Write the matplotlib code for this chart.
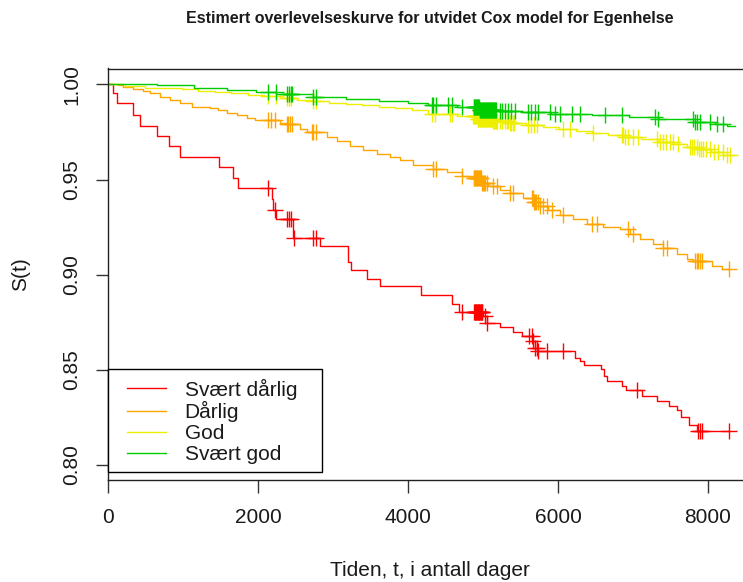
import numpy as np
import matplotlib
matplotlib.use("Agg")
import matplotlib.pyplot as plt
from matplotlib import rcParams
from matplotlib.patches import Rectangle

rcParams['font.family'] = ['Liberation Sans', 'DejaVu Sans']
rcParams['font.size'] = 15

W, H, DPI = 743, 582, 100

title = "Estimert overlevelseskurve for utvidet Cox model for Egenhelse"
xlabel = "Tiden, t, i antall dager"
ylabel = "S(t)"
group_names = ["Svært dårlig", "Dårlig", "God", "Svært god"]
group_colors = ["#FF0000", "#FFA500", "#EEEE00", "#00CD00"]
x_ticks = [0, 2000, 4000, 6000, 8000]
y_ticks = [0.80, 0.85, 0.90, 0.95, 1.00]
y_tick_labels = ["0.80", "0.85", "0.90", "0.95", "1.00"]

# step curves: times where S(t) drops, and the value after the drop
red_t = [0, 62, 116, 338, 427, 658, 818, 960, 1476, 1671, 1738, 2182, 2204, 2240,
         2471, 2827, 3204, 3236, 3449, 3627, 4169, 4591, 4684, 5004, 5058, 5227,
         5396, 5524, 5658, 5690, 5720, 6227, 6293, 6351, 6569, 6613, 6658, 6849,
         6907, 7116, 7316, 7484, 7582, 7640, 7742, 7849]
red_s = [1.0, 0.9953, 0.9900, 0.9842, 0.9783, 0.9728, 0.9675, 0.9621, 0.9565,
         0.9509, 0.9453, 0.9398, 0.9342, 0.9290, 0.9193, 0.9153, 0.9065, 0.9023,
         0.8979, 0.8939, 0.8891, 0.8846, 0.8805, 0.8781, 0.8746, 0.8723, 0.8700,
         0.8679, 0.8649, 0.8614, 0.8597, 0.8561, 0.8544, 0.8523, 0.8504, 0.8465,
         0.8442, 0.8416, 0.8393, 0.8363, 0.8335, 0.8307, 0.8286, 0.8249, 0.8207,
         0.8179]
red_end = 8284
red_cens = [2138, 2227, 2391, 2413, 2436, 2480, 2738, 2773, 4716, 4880, 4888, 4896,
            4904, 4912, 4920, 4928, 4936, 4944, 4952, 4960, 4968, 4976, 4984, 4992,
            5030, 5060, 5610, 5650, 5672, 5695, 5715, 5738, 5849, 6071, 7049, 7870,
            7892, 7915, 8284]

orange_t = [0, 138, 204, 338, 471, 560, 693, 827, 960, 1116, 1360, 1471, 1582, 1716,
            1849, 1960, 2293, 2382, 2560, 2649, 2916, 3049, 3227, 3404, 3582, 3760,
            3893, 4071, 4338, 4516, 4716, 4871, 4982, 5071, 5227, 5360, 5538, 5671,
            5760, 5871, 6027, 6204, 6382, 6604, 6827, 6960, 7093, 7271, 7404, 7582,
            7716, 7804, 8049, 8182]
orange_s = [1.0, 0.9995, 0.9988, 0.9977, 0.9968, 0.9953, 0.9935, 0.9918, 0.9900,
            0.9883, 0.9875, 0.9865, 0.9851, 0.9837, 0.9823, 0.9812, 0.9798, 0.9790,
            0.9767, 0.9749, 0.9725, 0.9705, 0.9679, 0.9653, 0.9637, 0.9619, 0.9602,
            0.9574, 0.9556, 0.9540, 0.9518, 0.9509, 0.9483, 0.9465, 0.9447, 0.9430,
            0.9404, 0.9381, 0.9360, 0.9339, 0.9311, 0.9290, 0.9268, 0.9251, 0.9240,
            0.9216, 0.9188, 0.9163, 0.9140, 0.9111, 0.9083, 0.9070, 0.9044, 0.9030]
orange_end = 8284
orange_cens = [2138, 2169, 2227, 2382, 2404, 2427, 2449, 2716, 2738, 2773, 4338, 4373,
               4716, 4875, 4885, 4895, 4905, 4915, 4925, 4935, 4945, 4955, 4965, 4975,
               4985, 4995, 5010, 5030, 5050, 5138, 5182, 5360, 5404, 5650, 5665, 5680,
               5695, 5710, 5730, 5760, 5800, 5850, 5916, 6071, 6449, 6516, 6938, 7004,
               7404, 7449, 7827, 7849, 7871, 7893, 7916, 8284]

yellow_t = [0, 221, 495, 760, 987, 1200, 1424, 1640, 1861, 2080, 2299, 2520, 2736,
            2950, 3173, 3390, 3611, 3830, 4049, 4266, 4651, 4924, 5140, 5360, 5580,
            5798, 6020, 6236, 6450, 6673, 6890, 7111, 7330, 7548, 7720, 7876, 8040,
            8204]
yellow_s = [1.0, 0.9993, 0.9984, 0.9979, 0.9974, 0.9967, 0.9960, 0.9953, 0.9946,
            0.9937, 0.9928, 0.9919, 0.9911, 0.9904, 0.9897, 0.9890, 0.9883, 0.9874,
            0.9865, 0.9847, 0.9835, 0.9818, 0.9809, 0.9800, 0.9787, 0.9774, 0.9765,
            0.9756, 0.9746, 0.9735, 0.9724, 0.9712, 0.9699, 0.9686, 0.9673, 0.9660,
            0.9645, 0.9630]
yellow_end = 8333
yellow_cens = [2138, 2240, 2391, 2413, 2436, 2738, 2773, 4316, 4360, 4560, 4582,
               4870, 4880, 4890, 4900, 4910, 4920, 4930, 4940, 4950, 4960, 4970, 4980,
               4990, 5000, 5010, 5020, 5030, 5040, 5050, 5060, 5070, 5080, 5090, 5100,
               5110, 5120, 5130, 5140, 5150, 5160, 5170, 5180, 5190, 5230, 5260, 5290,
               5320, 5340, 5360, 5380, 5400, 5410, 5600, 5640, 5680, 5720, 6071, 6160,
               6471, 6849, 6870, 6890, 6938, 7004, 7071, 7316, 7360, 7400, 7440, 7490,
               7540, 7604, 7760, 7790, 7820, 7850, 7880, 7910, 7940, 7980, 8030, 8080,
               8130, 8200, 8250, 8293]

green_t = [0, 659, 1151, 1588, 1971, 2241, 2736, 3173, 3611, 3994, 4266, 4651, 4950,
           5200, 5525, 5908, 6455, 6947, 7329, 7821, 8095, 8250]
green_s = [1.0, 0.9995, 0.9984, 0.9970, 0.9958, 0.9949, 0.9932, 0.9921, 0.9911,
           0.9900, 0.9890, 0.9879, 0.9867, 0.9861, 0.9854, 0.9847, 0.9840, 0.9830,
           0.9816, 0.9802, 0.9791, 0.9784]
green_end = 8360
green_cens = [2138, 2240, 2391, 2413, 2436, 2460, 2738, 2773, 4316, 4338, 4373, 4538,
              4582, 4716, 4875, 4885, 4895, 4905, 4915, 4925, 4935, 4945, 4955, 4965,
              4975, 4985, 4995, 5005, 5015, 5025, 5035, 5045, 5055, 5065, 5075, 5085,
              5095, 5105, 5115, 5125, 5135, 5145, 5155, 5165, 5175, 5227, 5260, 5300,
              5340, 5380, 5427, 5600, 5640, 5690, 5738, 5889, 5956, 6022, 6182, 6293,
              6627, 6849, 7293, 7338, 7804, 7830, 7860, 7893, 8027, 8116, 8204]

curves = [
    (red_t, red_s, red_end, red_cens),
    (orange_t, orange_s, orange_end, orange_cens),
    (yellow_t, yellow_s, yellow_end, yellow_cens),
    (green_t, green_s, green_end, green_cens),
]

fig = plt.figure(figsize=(W / DPI, H / DPI), dpi=DPI)
ax = fig.add_axes([108 / W, (H - 480) / H, (755 - 108) / W, (480 - 68.5) / H])

handles = []
for (t, s, t_end, cens), name, col in zip(curves, group_names, group_colors):
    tt = np.array(t + [t_end], dtype=float)
    ss = np.array(s + [s[-1]], dtype=float)
    line, = ax.step(tt, ss, where='post', color=col, lw=1.0, label=name)
    handles.append(line)
    idx = np.searchsorted(np.array(t), np.array(cens), side='right') - 1
    ax.plot(cens, np.array(s)[idx], ls='none', marker='+', color=col,
            markersize=11, markeredgewidth=1.0)

ax.set_xlim(0, 8627)
ax.set_ylim(0.792, 1.0084)
ax.set_xticks(x_ticks)
ax.set_xticklabels([str(v) for v in x_ticks])
ax.set_yticks(y_ticks)
ax.set_yticklabels(y_tick_labels, rotation=90, va='center')
ax.tick_params(axis='both', direction='out', length=9, width=1.0, colors='#333333',
               labelcolor='#1a1a1a', labelsize=15)
ax.tick_params(axis='x', pad=11)
ax.tick_params(axis='y', pad=10)
for sp in ax.spines.values():
    sp.set_color('#222222')
    sp.set_linewidth(1.0)

fig.text(430 / W, 1 - 18 / H, title, ha='center', va='center', fontsize=11.5,
         fontweight='bold', color='#1a1a1a')
fig.text(430 / W, 1 - 571 / H, xlabel, ha='center', va='center', fontsize=15,
         color='#1a1a1a')
fig.text(21 / W, 1 - 274 / H, ylabel, ha='center', va='center', rotation=90,
         fontsize=15, color='#1a1a1a')

# legend box, top-left corner sits at (0, 0.85) like in the original
box = Rectangle((108 / W, 1 - 472 / H), (322 - 108) / W, (472 - 369) / H,
                transform=fig.transFigure, facecolor='white', edgecolor='black',
                lw=1.0, zorder=3)
fig.add_artist(box)
leg = fig.legend(handles, group_names, loc='upper left',
                 bbox_to_anchor=(127 / W, 1 - 378.5 / H), frameon=False, borderpad=0,
                 handlelength=1.87, handletextpad=0.9, labelspacing=0.09,
                 borderaxespad=0, fontsize=15)
leg.set_zorder(4)
for text in leg.get_texts():
    text.set_color('#1a1a1a')

fig.savefig("out.png", dpi=DPI)
